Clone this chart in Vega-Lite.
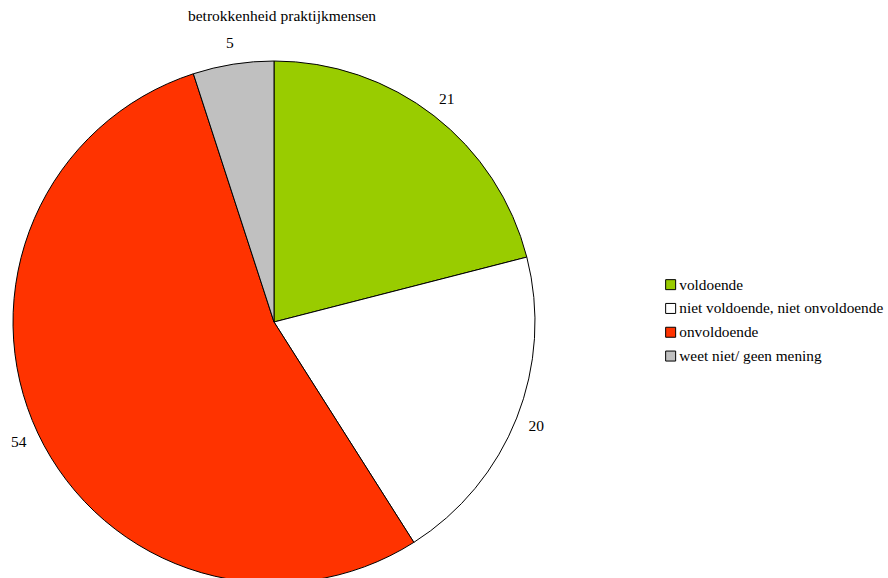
{
  "$schema": "https://vega.github.io/schema/vega-lite/v6.json",
  "width": 548,
  "height": 644,
  "autosize": {"type": "none"},
  "padding": {"left": 0, "top": 0, "right": 340, "bottom": 0},
  "background": "white",
  "config": {"view": {"stroke": null}, "font": "Liberation Serif"},
  "title": {"text": "betrokkenheid praktijkmensen", "font": "Liberation Serif", "fontSize": 15.5, "fontWeight": "normal", "color": "black", "anchor": "middle", "offset": -24, "dx": 8},
  "data": {"values": [
    {"cat": "voldoende", "value": 21, "ord": 1},
    {"cat": "niet voldoende, niet onvoldoende", "value": 20, "ord": 2},
    {"cat": "onvoldoende", "value": 54, "ord": 3},
    {"cat": "weet niet/ geen mening", "value": 5, "ord": 4}
  ]},
  "encoding": {
    "theta": {"field": "value", "type": "quantitative", "stack": true},
    "order": {"field": "ord", "type": "quantitative"}
  },
  "layer": [
    {
      "mark": {"type": "arc", "outerRadius": 261, "stroke": "black", "strokeWidth": 1},
      "encoding": {
        "color": {"field": "cat", "type": "nominal",
          "scale": {"domain": ["voldoende", "niet voldoende, niet onvoldoende", "onvoldoende", "weet niet/ geen mening"], "range": ["#99CC00", "#FFFFFF", "#FF3300", "#C0C0C0"]},
          "legend": {"title": null, "orient": "none", "legendX": 663, "legendY": 277, "symbolType": "square", "symbolSize": 100, "symbolStrokeColor": "black", "symbolStrokeWidth": 1, "labelFont": "Liberation Serif", "labelFontSize": 15.3, "labelColor": "black", "rowPadding": 7.8, "labelOffset": 1, "labelLimit": 400}
        }
      }
    },
    {
      "mark": {"type": "text", "radius": 282, "font": "Liberation Serif", "fontSize": 15.5, "color": "black"},
      "encoding": {"text": {"field": "value", "type": "quantitative"}}
    }
  ]
}
